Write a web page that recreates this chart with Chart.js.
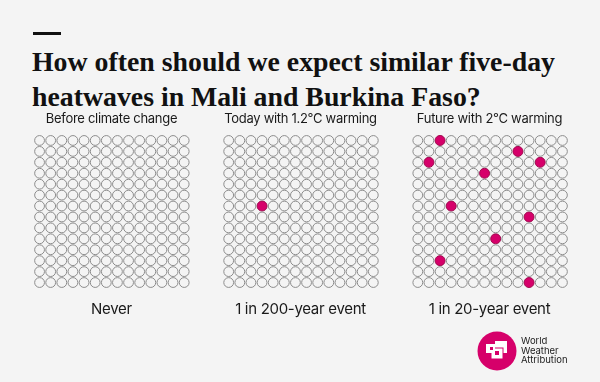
<!DOCTYPE html>
<html>
<head>
<meta charset="utf-8">
<script src="https://cdn.jsdelivr.net/npm/chart.js@4"></script>
<style>
  body { margin: 0; background: #f4f4f4; }
  #wrap { position: relative; width: 600px; height: 382px; background: #f4f4f4; overflow: hidden; }
  #chart { position: absolute; left: 0; top: 0; }
  .dash { position: absolute; left: 33px; top: 32px; width: 28px; height: 3px; background: #111; }
  .title { position: absolute; left: 32px; top: 45px; font-family: "Liberation Serif", serif; font-weight: bold;
    font-size: 27.8px; line-height: 34.5px; color: #111; white-space: nowrap; }
  .panelTitle, .panelFoot { position: absolute; width: 180px; text-align: center; font-family: Inter, "Noto Sans", sans-serif; color: #1a1a1a; }
  .panelTitle { top: 110px; font-size: 13px; letter-spacing: -0.3px; }
  .panelFoot { top: 299px; font-size: 15px; letter-spacing: -0.3px; }
  .logoText { position: absolute; left: 521px; top: 336px; font-family: Inter, "Noto Sans", sans-serif; font-size: 9.5px; line-height: 9.5px; color: #222; }
</style>
</head>
<body>
<div id="wrap">
  <div class="dash"></div>
  <div class="title">How often should we expect similar five-day<br>heatwaves in Mali and Burkina Faso?</div>
  <canvas id="chart" width="600" height="382"></canvas>
  <div id="labels"></div>
  <svg style="position:absolute;left:477px;top:331px" width="40" height="40" viewBox="0 0 40 40">
    <circle cx="20" cy="20" r="19.5" fill="#d6006a"/>
    <rect x="18" y="10" width="12" height="12" fill="#fff"/>
    <rect x="14" y="17" width="12" height="11" fill="#fff" stroke="#d6006a" stroke-width="1"/>
    <rect x="9" y="13" width="9" height="9" fill="#fff"/>
    <rect x="13" y="16" width="3" height="3" fill="#d6006a"/>
    <rect x="18" y="20" width="4" height="4" fill="#d6006a"/>
  </svg>
  <div class="logoText">World<br>Weather<br>Attribution</div>
</div>
<script>
const panelTitles = ["Before climate change", "Today with 1.2°C warming", "Future with 2°C warming"];
const panelFooters = ["Never", "1 in 200-year event", "1 in 20-year event"];
const gridCols = 14;
const gridRows = 14;
const panelGap = 17; // columns between panel starts

// highlighted cells per panel as [col, row]
const hitsBefore = [];
const hitsToday = [[3, 6]];
const hitsFuture = [[2, 0], [9, 1], [1, 2], [11, 2], [6, 3], [3, 6], [10, 7], [7, 9], [2, 11], [10, 13]];
const panelHits = [hitsBefore, hitsToday, hitsFuture];

const ringPoints = [];
const hitPoints = [];
panelHits.forEach((hits, p) => {
  for (let r = 0; r < gridRows; r++) {
    for (let c = 0; c < gridCols; c++) {
      const isHit = hits.some(h => h[0] === c && h[1] === r);
      const pt = { x: p * panelGap + c, y: r };
      if (isHit) hitPoints.push(pt); else ringPoints.push(pt);
    }
  }
});

const labels = document.getElementById('labels');
const panelCenters = [111.5, 300.5, 489.5];
panelCenters.forEach((cx, i) => {
  const t = document.createElement('div');
  t.className = 'panelTitle';
  t.style.left = (cx - 90) + 'px';
  t.textContent = panelTitles[i];
  labels.appendChild(t);
  const f = document.createElement('div');
  f.className = 'panelFoot';
  f.style.left = (cx - 90) + 'px';
  f.textContent = panelFooters[i];
  labels.appendChild(f);
});

new Chart(document.getElementById('chart'), {
  type: 'scatter',
  data: {
    datasets: [
      {
        data: ringPoints,
        pointRadius: 4.9,
        pointBorderWidth: 1,
        borderColor: '#8c8c8c',
        backgroundColor: 'rgba(0,0,0,0)'
      },
      {
        data: hitPoints,
        pointRadius: 5,
        pointBorderWidth: 1,
        borderColor: '#9e0a4e',
        backgroundColor: '#d6006a'
      }
    ]
  },
  options: {
    responsive: false,
    animation: false,
    layout: { padding: { left: 34, right: 32, top: 135, bottom: 94 } },
    plugins: { legend: { display: false }, tooltip: { enabled: false } },
    scales: {
      x: { type: 'linear', min: -0.5, max: 2 * panelGap + gridCols - 0.5, display: false },
      y: { type: 'linear', min: -0.5, max: gridRows - 0.5, reverse: true, display: false }
    }
  }
});
</script>
</body>
</html>
